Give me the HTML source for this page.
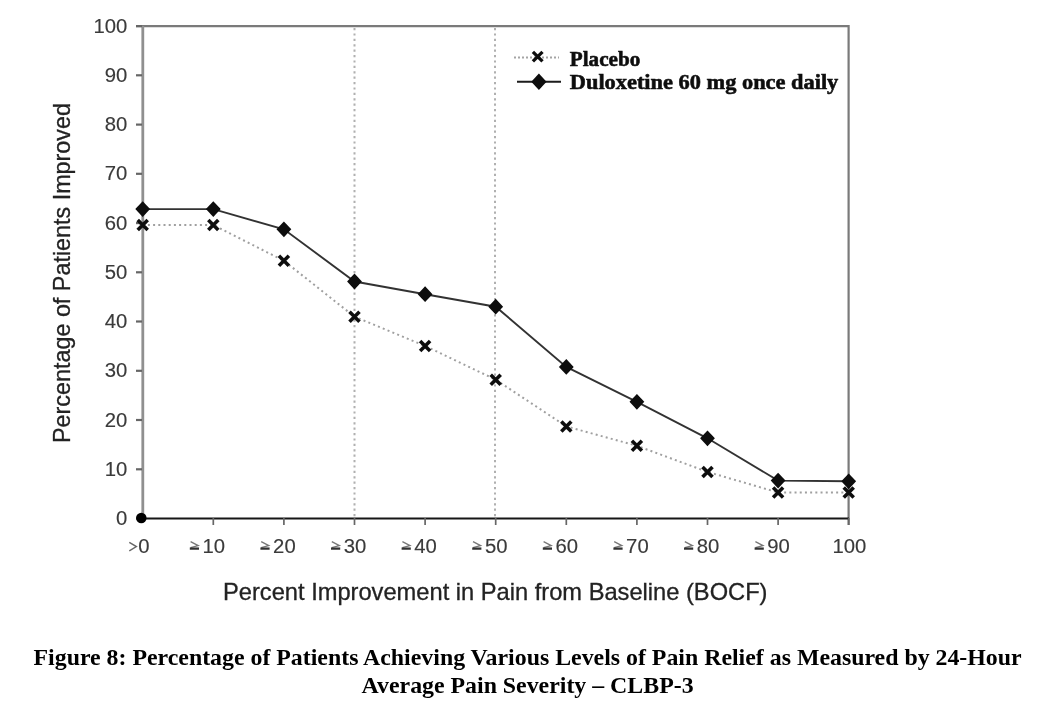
<!DOCTYPE html>
<html><head><meta charset="utf-8"><style>
html,body{margin:0;padding:0;background:#fff;width:1045px;height:704px;overflow:hidden}
svg{display:block}
.tl{font-family:"Liberation Sans",sans-serif;font-size:20.3px;fill:#3a3a3a;stroke:#3a3a3a;stroke-width:0.15px}
.at{font-family:"Liberation Sans",sans-serif;font-size:23.4px;fill:#222;stroke:#222;stroke-width:0.3px}
.lg{font-family:"Liberation Serif",serif;font-weight:bold;font-size:22px;fill:#111;stroke:#111;stroke-width:0.6px}
.cap{font-family:"Liberation Serif",serif;font-weight:bold;font-size:23.85px;fill:#000}
</style></head><body>
<svg width="1045" height="704" viewBox="0 0 1045 704">
<defs><filter id="bl" x="0" y="0" width="1" height="1"><feGaussianBlur stdDeviation="0.45"/></filter></defs><g filter="url(#bl)">
<rect width="1045" height="704" fill="#fff"/>
<path d="M136 26.2 H848.6 V525" fill="none" stroke="#7a7a7a" stroke-width="2.2"/>
<line x1="354.5" y1="28" x2="354.5" y2="518" stroke="#b0b0b0" stroke-width="2" stroke-dasharray="2.2 3.2"/>
<line x1="495" y1="28" x2="495" y2="518" stroke="#b0b0b0" stroke-width="2" stroke-dasharray="2.2 3.2"/>
<line x1="142.8" y1="26" x2="142.8" y2="519" stroke="#909090" stroke-width="2.8"/>
<line x1="136" y1="518.5" x2="142" y2="518.5" stroke="#666" stroke-width="2.2"/>
<text x="127.3" y="525.1" text-anchor="end" class="tl">0</text>
<line x1="136" y1="469.3" x2="142" y2="469.3" stroke="#666" stroke-width="2.2"/>
<text x="127.3" y="475.9" text-anchor="end" class="tl">10</text>
<line x1="136" y1="420.0" x2="142" y2="420.0" stroke="#666" stroke-width="2.2"/>
<text x="127.3" y="426.6" text-anchor="end" class="tl">20</text>
<line x1="136" y1="370.8" x2="142" y2="370.8" stroke="#666" stroke-width="2.2"/>
<text x="127.3" y="377.4" text-anchor="end" class="tl">30</text>
<line x1="136" y1="321.5" x2="142" y2="321.5" stroke="#666" stroke-width="2.2"/>
<text x="127.3" y="328.1" text-anchor="end" class="tl">40</text>
<line x1="136" y1="272.3" x2="142" y2="272.3" stroke="#666" stroke-width="2.2"/>
<text x="127.3" y="278.9" text-anchor="end" class="tl">50</text>
<line x1="136" y1="223.1" x2="142" y2="223.1" stroke="#666" stroke-width="2.2"/>
<text x="127.3" y="229.7" text-anchor="end" class="tl">60</text>
<line x1="136" y1="173.8" x2="142" y2="173.8" stroke="#666" stroke-width="2.2"/>
<text x="127.3" y="180.4" text-anchor="end" class="tl">70</text>
<line x1="136" y1="124.6" x2="142" y2="124.6" stroke="#666" stroke-width="2.2"/>
<text x="127.3" y="131.2" text-anchor="end" class="tl">80</text>
<line x1="136" y1="75.3" x2="142" y2="75.3" stroke="#666" stroke-width="2.2"/>
<text x="127.3" y="81.9" text-anchor="end" class="tl">90</text>
<line x1="136" y1="26.1" x2="142" y2="26.1" stroke="#666" stroke-width="2.2"/>
<text x="127.3" y="32.7" text-anchor="end" class="tl">100</text>
<line x1="142" y1="518.6" x2="849" y2="518.6" stroke="#151515" stroke-width="2"/>
<line x1="213.3" y1="518" x2="213.3" y2="525" stroke="#666" stroke-width="1.7"/>
<line x1="283.9" y1="518" x2="283.9" y2="525" stroke="#666" stroke-width="1.7"/>
<line x1="354.5" y1="518" x2="354.5" y2="525" stroke="#666" stroke-width="1.7"/>
<line x1="425.1" y1="518" x2="425.1" y2="525" stroke="#666" stroke-width="1.7"/>
<line x1="495.7" y1="518" x2="495.7" y2="525" stroke="#666" stroke-width="1.7"/>
<line x1="566.3" y1="518" x2="566.3" y2="525" stroke="#666" stroke-width="1.7"/>
<line x1="636.9" y1="518" x2="636.9" y2="525" stroke="#666" stroke-width="1.7"/>
<line x1="707.5" y1="518" x2="707.5" y2="525" stroke="#666" stroke-width="1.7"/>
<line x1="778.1" y1="518" x2="778.1" y2="525" stroke="#666" stroke-width="1.7"/>
<line x1="848.7" y1="518" x2="848.7" y2="525" stroke="#666" stroke-width="1.7"/>
<text x="143.9" y="552.7" text-anchor="middle" class="tl">0</text>
<path d="M129.3 542.3 L136.4 546.6 L129.3 550.8" fill="none" stroke="#666" stroke-width="1.4"/>
<text x="213.8" y="552.7" text-anchor="middle" class="tl">10</text>
<path d="M190.6 541.6 L198.2 545.6 L190.6 547.6" fill="none" stroke="#777" stroke-width="1.3"/>
<line x1="189.8" y1="548.6" x2="199.0" y2="548.6" stroke="#333" stroke-width="2.3"/>
<text x="284.4" y="552.7" text-anchor="middle" class="tl">20</text>
<path d="M261.2 541.6 L268.8 545.6 L261.2 547.6" fill="none" stroke="#777" stroke-width="1.3"/>
<line x1="260.4" y1="548.6" x2="269.6" y2="548.6" stroke="#333" stroke-width="2.3"/>
<text x="355.0" y="552.7" text-anchor="middle" class="tl">30</text>
<path d="M331.8 541.6 L339.4 545.6 L331.8 547.6" fill="none" stroke="#777" stroke-width="1.3"/>
<line x1="331.0" y1="548.6" x2="340.2" y2="548.6" stroke="#333" stroke-width="2.3"/>
<text x="425.6" y="552.7" text-anchor="middle" class="tl">40</text>
<path d="M402.4 541.6 L410.0 545.6 L402.4 547.6" fill="none" stroke="#777" stroke-width="1.3"/>
<line x1="401.6" y1="548.6" x2="410.8" y2="548.6" stroke="#333" stroke-width="2.3"/>
<text x="496.2" y="552.7" text-anchor="middle" class="tl">50</text>
<path d="M473.0 541.6 L480.6 545.6 L473.0 547.6" fill="none" stroke="#777" stroke-width="1.3"/>
<line x1="472.2" y1="548.6" x2="481.4" y2="548.6" stroke="#333" stroke-width="2.3"/>
<text x="566.8" y="552.7" text-anchor="middle" class="tl">60</text>
<path d="M543.6 541.6 L551.2 545.6 L543.6 547.6" fill="none" stroke="#777" stroke-width="1.3"/>
<line x1="542.8" y1="548.6" x2="552.0" y2="548.6" stroke="#333" stroke-width="2.3"/>
<text x="637.4" y="552.7" text-anchor="middle" class="tl">70</text>
<path d="M614.2 541.6 L621.8 545.6 L614.2 547.6" fill="none" stroke="#777" stroke-width="1.3"/>
<line x1="613.4" y1="548.6" x2="622.6" y2="548.6" stroke="#333" stroke-width="2.3"/>
<text x="708.0" y="552.7" text-anchor="middle" class="tl">80</text>
<path d="M684.8 541.6 L692.4 545.6 L684.8 547.6" fill="none" stroke="#777" stroke-width="1.3"/>
<line x1="684.0" y1="548.6" x2="693.2" y2="548.6" stroke="#333" stroke-width="2.3"/>
<text x="778.6" y="552.7" text-anchor="middle" class="tl">90</text>
<path d="M755.4 541.6 L763.0 545.6 L755.4 547.6" fill="none" stroke="#777" stroke-width="1.3"/>
<line x1="754.6" y1="548.6" x2="763.8" y2="548.6" stroke="#333" stroke-width="2.3"/>
<text x="849.4" y="552.7" text-anchor="middle" class="tl">100</text>
<polyline points="142.7,225.0 213.3,225.0 283.9,260.8 354.5,316.7 425.1,345.9 495.7,379.7 566.3,426.4 636.9,445.8 707.5,471.9 778.1,492.5 848.7,492.5" fill="none" stroke="#a0a0a0" stroke-width="2" stroke-dasharray="2 3.2"/>
<polyline points="142.7,209.1 213.3,209.1 283.9,229.3 354.5,281.5 425.1,294.2 495.7,306.7 566.3,366.9 636.9,401.8 707.5,438.3 778.1,480.6 848.7,481.3" fill="none" stroke="#333" stroke-width="1.9"/>
<path d="M137.7 220.0 L147.7 230.0 M147.7 220.0 L137.7 230.0" stroke="#111" stroke-width="3.6"/>
<path d="M208.3 220.0 L218.3 230.0 M218.3 220.0 L208.3 230.0" stroke="#111" stroke-width="3.6"/>
<path d="M278.9 255.8 L288.9 265.8 M288.9 255.8 L278.9 265.8" stroke="#111" stroke-width="3.6"/>
<path d="M349.5 311.7 L359.5 321.7 M359.5 311.7 L349.5 321.7" stroke="#111" stroke-width="3.6"/>
<path d="M420.1 340.9 L430.1 350.9 M430.1 340.9 L420.1 350.9" stroke="#111" stroke-width="3.6"/>
<path d="M490.7 374.7 L500.7 384.7 M500.7 374.7 L490.7 384.7" stroke="#111" stroke-width="3.6"/>
<path d="M561.3 421.4 L571.3 431.4 M571.3 421.4 L561.3 431.4" stroke="#111" stroke-width="3.6"/>
<path d="M631.9 440.8 L641.9 450.8 M641.9 440.8 L631.9 450.8" stroke="#111" stroke-width="3.6"/>
<path d="M702.5 466.9 L712.5 476.9 M712.5 466.9 L702.5 476.9" stroke="#111" stroke-width="3.6"/>
<path d="M773.1 487.5 L783.1 497.5 M783.1 487.5 L773.1 497.5" stroke="#111" stroke-width="3.6"/>
<path d="M843.7 487.5 L853.7 497.5 M853.7 487.5 L843.7 497.5" stroke="#111" stroke-width="3.6"/>
<path d="M142.7 201.2 L150.1 209.1 L142.7 217.0 L135.3 209.1Z" fill="#0a0a0a"/>
<path d="M213.3 201.2 L220.7 209.1 L213.3 217.0 L205.9 209.1Z" fill="#0a0a0a"/>
<path d="M283.9 221.4 L291.3 229.3 L283.9 237.2 L276.5 229.3Z" fill="#0a0a0a"/>
<path d="M354.5 273.6 L361.9 281.5 L354.5 289.4 L347.1 281.5Z" fill="#0a0a0a"/>
<path d="M425.1 286.3 L432.5 294.2 L425.1 302.1 L417.7 294.2Z" fill="#0a0a0a"/>
<path d="M495.7 298.8 L503.1 306.7 L495.7 314.6 L488.3 306.7Z" fill="#0a0a0a"/>
<path d="M566.3 359.0 L573.7 366.9 L566.3 374.8 L558.9 366.9Z" fill="#0a0a0a"/>
<path d="M636.9 393.9 L644.3 401.8 L636.9 409.7 L629.5 401.8Z" fill="#0a0a0a"/>
<path d="M707.5 430.4 L714.9 438.3 L707.5 446.2 L700.1 438.3Z" fill="#0a0a0a"/>
<path d="M778.1 472.7 L785.5 480.6 L778.1 488.5 L770.7 480.6Z" fill="#0a0a0a"/>
<path d="M848.7 473.4 L856.1 481.3 L848.7 489.2 L841.3 481.3Z" fill="#0a0a0a"/>
<circle cx="141.3" cy="518" r="5.3" fill="#050505"/>
<line x1="514" y1="57.4" x2="559" y2="57.4" stroke="#a5a5a5" stroke-width="2" stroke-dasharray="2 2"/>
<path d="M532.9 51.8 L542.5 61.4 M542.5 51.8 L532.9 61.4" stroke="#111" stroke-width="3.3"/>
<line x1="517" y1="81.8" x2="561" y2="81.8" stroke="#1a1a1a" stroke-width="2"/>
<path d="M538.9 73.6 L546.5 81.8 L538.9 90.0 L531.3 81.8Z" fill="#0a0a0a"/>
<text x="569.8" y="66.4" class="lg" textLength="70.5" lengthAdjust="spacingAndGlyphs">Placebo</text>
<text x="569.8" y="89.4" class="lg" textLength="268.5" lengthAdjust="spacingAndGlyphs">Duloxetine 60 mg once daily</text>
<text x="223" y="600.1" class="at" textLength="544.5" lengthAdjust="spacingAndGlyphs">Percent Improvement in Pain from Baseline (BOCF)</text>
<text transform="translate(70.3 443) rotate(-90)" x="0" y="0" class="at" textLength="340" lengthAdjust="spacingAndGlyphs">Percentage of Patients Improved</text>
<text x="527.6" y="664.7" class="cap" text-anchor="middle">Figure 8: Percentage of Patients Achieving Various Levels of Pain Relief as Measured by 24-Hour</text>
<text x="527.6" y="692.6" class="cap" text-anchor="middle">Average Pain Severity – CLBP-3</text>
</g>
</svg>
</body></html>
